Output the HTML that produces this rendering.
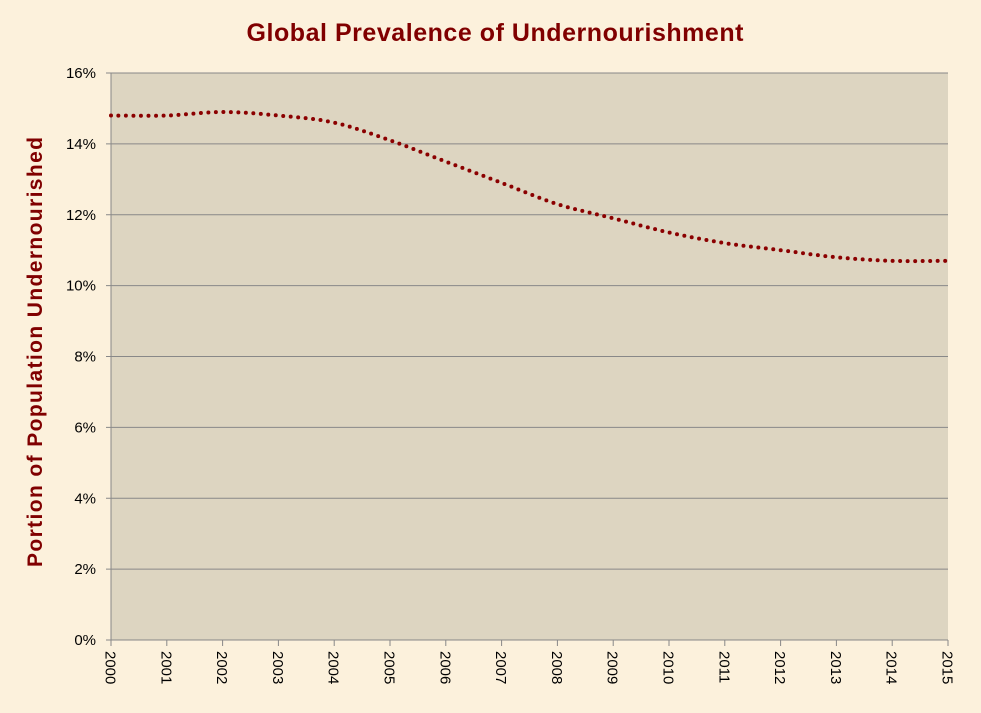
<!DOCTYPE html>
<html><head><meta charset="utf-8"><style>
html,body{margin:0;padding:0;}
body{width:981px;height:713px;background:#fcf1dc;font-family:"Liberation Sans",sans-serif;overflow:hidden;}
</style></head><body>
<svg width="981" height="713" xmlns="http://www.w3.org/2000/svg" style="position:absolute;left:0;top:0">
<rect width="981" height="713" fill="#fcf1dc"/>
<text x="495" y="41" text-anchor="middle" font-family="Liberation Sans, sans-serif" font-weight="bold" font-size="25" fill="#800000" textLength="497">Global Prevalence of Undernourishment</text>
<text transform="translate(42,352) rotate(-90)" text-anchor="middle" font-family="Liberation Sans, sans-serif" font-weight="bold" font-size="21" fill="#800000" textLength="430">Portion of Population  Undernourished</text>
<rect x="111" y="73" width="837" height="567" fill="#ddd5c1"/>
<g id="grid" stroke="#888" stroke-width="1"></g>
<g id="lab" font-family="Liberation Sans, sans-serif" font-size="15" fill="#000"></g>
<path id="line" fill="none" stroke="#8b0000" stroke-width="4" stroke-linecap="round" stroke-dasharray="0 7.5"/>
</svg>
<script>
var ns="http://www.w3.org/2000/svg",g=document.getElementById('grid'),l=document.getElementById('lab');
function el(p,t,a,tx){var e=document.createElementNS(ns,t);for(var k in a)e.setAttribute(k,a[k]);if(tx!=null)e.textContent=tx;p.appendChild(e);return e;}
for(var i=0;i<=8;i++){var y=640-i*70.875;
 if(i>0)el(g,'line',{x1:111,x2:948,y1:y,y2:y});
 el(g,'line',{x1:106,x2:111,y1:y,y2:y});
 el(l,'text',{x:96,y:y+5,'text-anchor':'end'},(i*2)+'%');}
el(g,'line',{x1:111,x2:111,y1:73,y2:640});
el(g,'line',{x1:111,x2:948,y1:640,y2:640});
var v=[14.8,14.8,14.9,14.8,14.6,14.1,13.5,12.9,12.3,11.9,11.5,11.2,11.0,10.8,10.7,10.7],P=[];
for(var i=0;i<16;i++){var x=111+i*55.8;
 el(g,'line',{x1:x,x2:x,y1:640,y2:646});
 el(l,'text',{transform:'translate('+(x-5.5)+',651) rotate(90)'},String(2000+i));
 P.push([x,640-v[i]*35.4375]);}
var d='M'+P[0][0]+','+P[0][1];
for(var i=0;i<15;i++){var p0=P[Math.max(i-1,0)],p1=P[i],p2=P[i+1],p3=P[Math.min(i+2,15)];
 d+=' C'+(p1[0]+(p2[0]-p0[0])/6)+','+(p1[1]+(p2[1]-p0[1])/6)+' '+(p2[0]-(p3[0]-p1[0])/6)+','+(p2[1]-(p3[1]-p1[1])/6)+' '+p2[0]+','+p2[1];}
document.getElementById('line').setAttribute('d',d);
</script>
</body></html>
